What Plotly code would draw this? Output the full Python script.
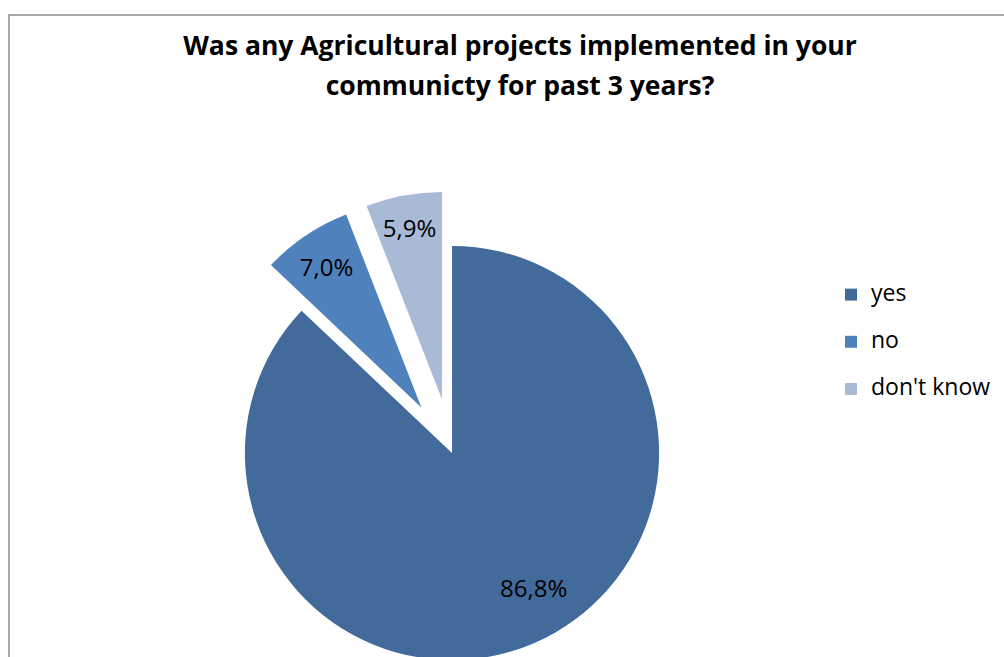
import plotly.graph_objects as go

# Survey answers and their shares (%)
categories = ["yes", "no", "don't know"]
shares = [86.8, 7.0, 5.9]
colors = ["#426A9B", "#4F81BD", "#A9BAD7"]
pulls = [0, 0.265, 0.265]

title_lines = ["Was any Agricultural projects implemented in your",
               "communicty for past 3 years?"]

W, H = 1004, 730
cx, cy, box = 452, 453, 262  # pie centre and half-size of its box, px


def px_x(x):
    return x / W


def px_y(y):
    return 1 - y / H


legend_labels = ["<span style='font-size:23px;baseline-shift:7px'>%s</span>" % c
                 for c in categories]

# the large slice gets its label placed as an annotation further out
slice_text = [""] + ["%.1f%%" % v for v in shares[1:]]
slice_text = [t.replace(".", ",") for t in slice_text]

fig = go.Figure(go.Pie(
    labels=legend_labels,
    values=shares,
    sort=False,
    direction="clockwise",
    rotation=0,
    pull=pulls,
    marker=dict(colors=colors, line=dict(width=0)),
    text=slice_text,
    textinfo="text",
    textposition="inside",
    insidetextorientation="horizontal",
    textfont=dict(family="Open Sans", size=24, color="#000000"),
    hovertemplate="%{label}: %{value:.1f}%<extra></extra>",
    domain=dict(x=[px_x(cx - box), px_x(cx + box)],
                y=[px_y(cy + box), px_y(cy - box)]),
))

title_html = "<br>".join("<span style='font-size:26.5px'>%s</span>" % t
                         for t in title_lines)

fig.update_layout(
    width=W, height=H,
    margin=dict(l=0, r=0, t=0, b=0),
    paper_bgcolor="white",
    separators=",.",
    uniformtext=dict(minsize=24, mode="show"),
    title=dict(
        text=title_html,
        x=px_x(520), xanchor="center",
        y=px_y(55), yanchor="top",
        font=dict(family="Open Sans", size=31, color="#000000", weight="bold"),
    ),
    legend=dict(
        x=px_x(831), xanchor="left",
        y=px_y(266), yanchor="top",
        font=dict(family="Open Sans", size=34, color="#000000"),
        itemwidth=30,
        bgcolor="rgba(0,0,0,0)",
    ),
    annotations=[dict(
        text=("%.1f%%" % shares[0]).replace(".", ","),
        xref="paper", yref="paper",
        x=px_x(533), y=px_y(587),
        xanchor="center", yanchor="middle",
        showarrow=False,
        font=dict(family="Open Sans", size=24, color="#000000"),
    )],
    shapes=[dict(
        type="rect", xref="paper", yref="paper",
        x0=px_x(9), x1=1.2, y0=-0.2, y1=px_y(15),
        line=dict(color="#8C8C8C", width=1.5),
        fillcolor="rgba(0,0,0,0)", layer="below",
    )],
)

fig.write_html("out.html", post_script="document.body.style.overflow='hidden';")
